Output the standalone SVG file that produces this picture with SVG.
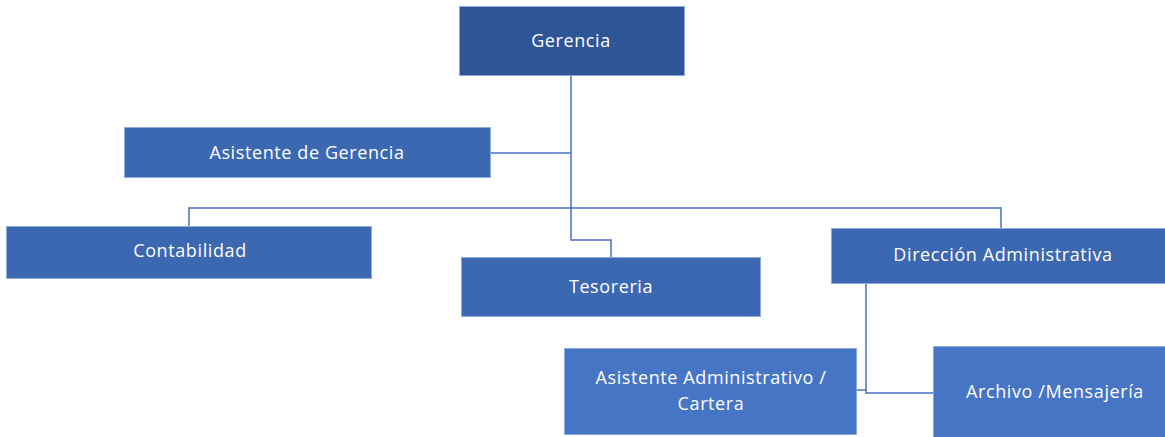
<svg xmlns="http://www.w3.org/2000/svg" width="1165" height="437" viewBox="0 0 1165 437">
<style>
.box{stroke:#8faadc;stroke-width:1}
.dark{fill:#2f5597}
.mid{fill:#3c68b1}
.light{fill:#4675c6}
.lbl{font-family:"Open Sans","Liberation Sans",sans-serif;font-size:18px;fill:#ffffff;text-anchor:middle;letter-spacing:0.6px}
.conn{fill:none;stroke:#4472c4;stroke-width:1.5}
</style>
<rect width="1165" height="437" fill="#ffffff"/>
<g id="connectors">
<path class="conn" d="M571,76 V210"/>
<path class="conn" d="M491,153 H571"/>
<path class="conn" d="M189,226 V208 H1001 V228"/>
<path class="conn" d="M571,210 V240 H611 V257"/>
<path class="conn" d="M866,284 V393 H933"/>
<path class="conn" d="M857,390 H866"/>
</g>
<g id="gerencia"><rect class="box dark" x="459.5" y="6.5" width="225" height="69"/><text class="lbl" x="571" y="47">Gerencia</text></g>
<g id="asistente-gerencia"><rect class="box mid" x="124.5" y="127.5" width="366" height="50"/><text class="lbl" x="307" y="159">Asistente de Gerencia</text></g>
<g id="contabilidad"><rect class="box mid" x="6.5" y="226.5" width="365" height="52"/><text class="lbl" x="190" y="257">Contabilidad</text></g>
<g id="tesoreria"><rect class="box mid" x="461.5" y="257.5" width="299" height="59"/><text class="lbl" x="611" y="293">Tesoreria</text></g>
<g id="direccion"><rect class="box mid" x="831.5" y="228.5" width="334" height="55"/><text class="lbl" x="1003" y="261">Dirección Administrativa</text></g>
<g id="asistente-administrativo"><rect class="box light" x="564.5" y="348.5" width="292" height="86"/><text class="lbl" x="711" y="384">Asistente Administrativo /</text><text class="lbl" x="711" y="410">Cartera</text></g>
<g id="archivo"><rect class="box light" x="933.5" y="346.5" width="232" height="91"/><text class="lbl" x="1055" y="398">Archivo /Mensajería</text></g>
</svg>
